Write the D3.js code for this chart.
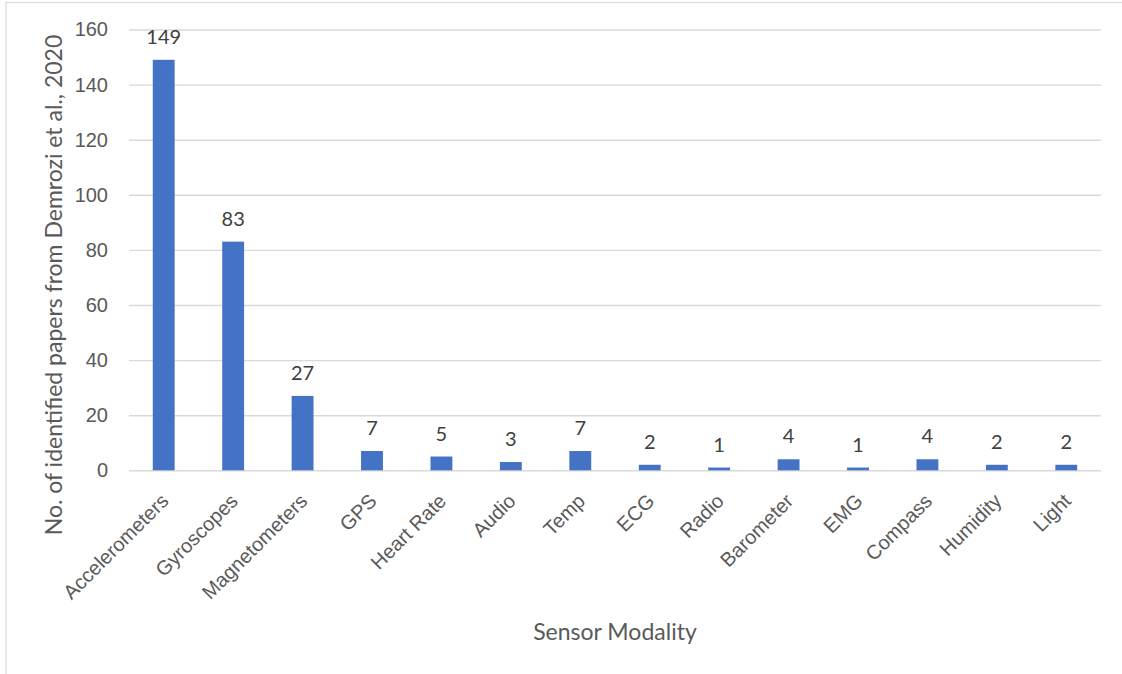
<!DOCTYPE html>
<html>
<head>
<meta charset="utf-8">
<script src="https://cdn.jsdelivr.net/npm/d3@7"></script>
<style>
  html, body { margin: 0; padding: 0; background: #fff; }
  svg { display: block; font-family: Lato, "Open Sans", sans-serif; }
</style>
</head>
<body>
<svg id="chart" width="1122" height="674"></svg>
<script>
// Sensor modalities and paper counts
const categories = ["Accelerometers", "Gyroscopes", "Magnetometers", "GPS", "Heart Rate", "Audio", "Temp", "ECG", "Radio", "Barometer", "EMG", "Compass", "Humidity", "Light"];
const counts = [149, 83, 27, 7, 5, 3, 7, 2, 1, 4, 1, 4, 2, 2];
const yTicks = [0, 20, 40, 60, 80, 100, 120, 140, 160];
const yTitle = "No. of identified papers from Demrozi et al., 2020";
const xTitle = "Sensor Modality";

const svg = d3.select("#chart");
const W = 1122, H = 674;
const plot = { left: 129, right: 1101, top: 29.5, bottom: 470.3 };

// chart frame
svg.append("rect")
  .attr("x", 6).attr("y", 2.5)
  .attr("width", W + 10).attr("height", H + 10)
  .attr("fill", "none").attr("stroke", "#d9d9d9").attr("stroke-width", 1.2);

const x = d3.scaleBand()
  .domain(categories)
  .range([plot.left, plot.right])
  .paddingInner(0.685)
  .paddingOuter(0.3425);

const y = d3.scaleLinear()
  .domain([0, 160])
  .range([plot.bottom, plot.top]);

// horizontal gridlines + y tick labels
const yAxis = d3.axisLeft(y)
  .tickValues(yTicks)
  .tickSize(-(plot.right - plot.left))
  .tickPadding(21);

const gy = svg.append("g")
  .attr("transform", `translate(${plot.left},0)`)
  .call(yAxis);
gy.select(".domain").remove();
gy.selectAll(".tick line").attr("stroke", "#d9d9d9").attr("stroke-width", 1.4);
gy.selectAll(".tick text")
  .attr("fill", "#595959")
  .style("font-size", "20px");

// bars
svg.append("g").selectAll("rect")
  .data(categories)
  .join("rect")
  .attr("x", d => x(d))
  .attr("width", x.bandwidth())
  .attr("y", (d, i) => y(counts[i]))
  .attr("height", (d, i) => y(0) - y(counts[i]))
  .attr("fill", "#4472c4");

// value labels
svg.append("g").selectAll("text")
  .data(categories)
  .join("text")
  .attr("x", d => x(d) + x.bandwidth() / 2)
  .attr("y", (d, i) => y(counts[i]) - 16)
  .attr("text-anchor", "middle")
  .attr("fill", "#404040")
  .style("font-size", "20px")
  .text((d, i) => counts[i]);

// category axis with rotated labels
const xAxis = d3.axisBottom(x).tickSize(0).tickPadding(0);
const gx = svg.append("g")
  .attr("transform", `translate(0,${plot.bottom})`)
  .call(xAxis);
gx.select(".domain").remove();
gx.selectAll(".tick text")
  .attr("fill", "#595959")
  .style("font-size", "20px")
  .attr("text-anchor", "end")
  .attr("x", 0).attr("y", 0).attr("dy", 0)
  .attr("transform", "translate(6,32) rotate(-45)");

// axis titles
svg.append("text")
  .attr("transform", "translate(62,285) rotate(-90)")
  .attr("text-anchor", "middle")
  .attr("fill", "#595959")
  .style("font-size", "23px")
  .text(yTitle);

svg.append("text")
  .attr("x", (plot.left + plot.right) / 2)
  .attr("y", 640)
  .attr("text-anchor", "middle")
  .attr("fill", "#595959")
  .style("font-size", "23px")
  .text(xTitle);
</script>
</body>
</html>
